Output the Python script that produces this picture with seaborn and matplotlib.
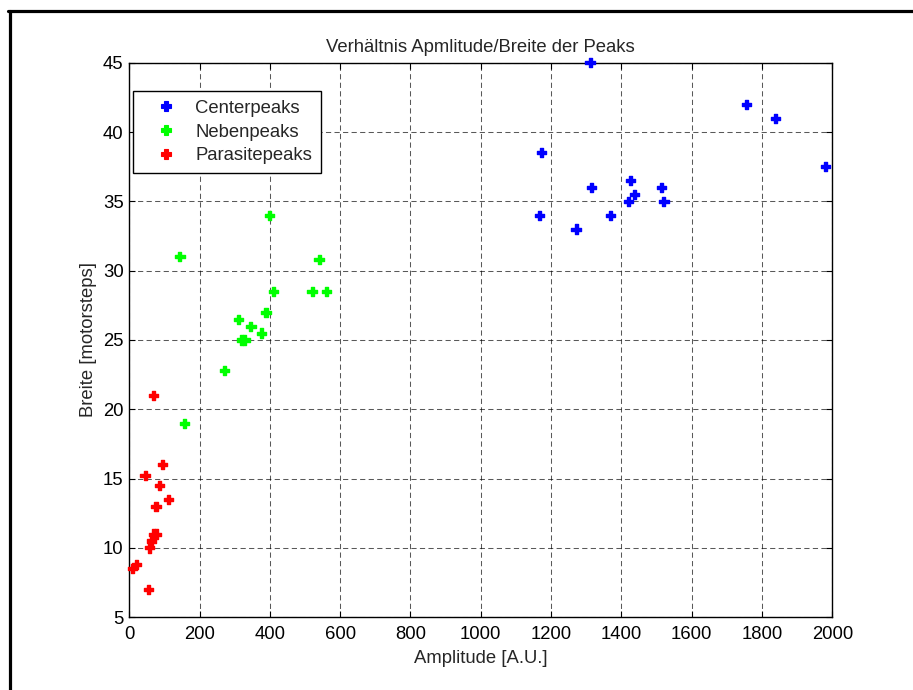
import matplotlib
matplotlib.use("Agg")
import matplotlib.pyplot as plt
from matplotlib.lines import Line2D
import numpy as np
import pandas as pd
import seaborn as sns

# Peak measurements: amplitude [A.U.] vs. width [motorsteps]
center_amp = [1311, 1757, 1838, 1172, 1980, 1425, 1314, 1515, 1438, 1421, 1521, 1166, 1368, 1271]
center_width = [45, 42, 41, 38.5, 37.5, 36.5, 36, 36, 35.5, 35, 35, 34, 34, 33]

neben_amp = [400, 144, 540, 410, 520, 562, 389, 311, 346, 377, 320, 329, 272, 156]
neben_width = [34, 31, 30.8, 28.5, 28.5, 28.5, 27, 26.5, 26, 25.5, 25, 25, 22.8, 19]

parasite_amp = [68, 94, 45, 87, 111, 76, 78, 68, 64, 57, 21, 10, 54]
parasite_width = [21, 16, 15.25, 14.5, 13.5, 13, 11, 11, 10.5, 10, 8.8, 8.5, 7]

group_names = ["Centerpeaks", "Nebenpeaks", "Parasitepeaks"]
group_colors = ["#0000ff", "#00ff00", "#ff0000"]

x_ticks = [0, 200, 400, 600, 800, 1000, 1200, 1400, 1600, 1800, 2000]
y_ticks = [5, 10, 15, 20, 25, 30, 35, 40, 45]

df = pd.DataFrame({
    "amp": center_amp + neben_amp + parasite_amp,
    "width": center_width + neben_width + parasite_width,
    "group": ([group_names[0]] * len(center_amp)
              + [group_names[1]] * len(neben_amp)
              + [group_names[2]] * len(parasite_amp)),
})

sns.set_style("white")
plt.rcParams["font.family"] = ["Liberation Sans", "DejaVu Sans"]
plt.rcParams["font.size"] = 13.3

fig = plt.figure(figsize=(9.13, 6.90), dpi=100)
ax = fig.add_axes([0.1416, 0.1054, 0.7700, 0.8037])

sns.scatterplot(data=df, x="amp", y="width", hue="group",
                palette=dict(zip(group_names, group_colors)),
                hue_order=group_names, marker="P", s=44, linewidth=1.0,
                edgecolor="face", clip_on=False, ax=ax, zorder=3)

ax.set_xlim(0, 2000)
ax.set_ylim(5, 45)
ax.set_xticks(x_ticks)
ax.set_yticks(y_ticks)

ax.grid(True, color="black", linestyle=(0, (5, 3.2)), linewidth=0.75, alpha=0.65)
ax.set_axisbelow(True)
for sp in ax.spines.values():
    sp.set_color("black")
    sp.set_linewidth(1.0)
ax.tick_params(direction="in", length=4, width=0.8, top=True, right=True,
               bottom=True, left=True, colors="black", labelsize=13.3)
ax.tick_params(axis="x", pad=6)
ax.tick_params(axis="y", pad=4)

ax.set_title("Verhältnis Apmlitude/Breite der Peaks", fontsize=13.3, pad=8)
ax.set_xlabel("Amplitude [A.U.]", fontsize=13.3, labelpad=5)
ax.set_ylabel("Breite [motorsteps]", fontsize=13.3, labelpad=4)

handles = [Line2D([], [], linestyle="none", marker="P", markersize=7,
                  markerfacecolor=c, markeredgecolor=c, markeredgewidth=0.8,
                  color=c)
           for c in group_colors]
leg = ax.legend(handles, group_names, loc="upper left",
                bbox_to_anchor=(0.0057, 0.9495), borderaxespad=0,
                frameon=True, fancybox=False, framealpha=1, edgecolor="black",
                handlelength=2.5, handletextpad=0.35, labelspacing=0.36,
                borderpad=0.5, fontsize=13.3)
leg.get_frame().set_linewidth(1.0)

# Frame lines along the left and top of the figure
fig.add_artist(Line2D([9.5 / 913, 9.5 / 913], [0, 1 - 10.5 / 690],
                      color="black", linewidth=2.3, transform=fig.transFigure))
fig.add_artist(Line2D([9.5 / 913 - 0.0012, 1], [1 - 10.5 / 690, 1 - 10.5 / 690],
                      color="black", linewidth=2.3, transform=fig.transFigure))

fig.savefig("out.png", dpi=100, facecolor="white")
